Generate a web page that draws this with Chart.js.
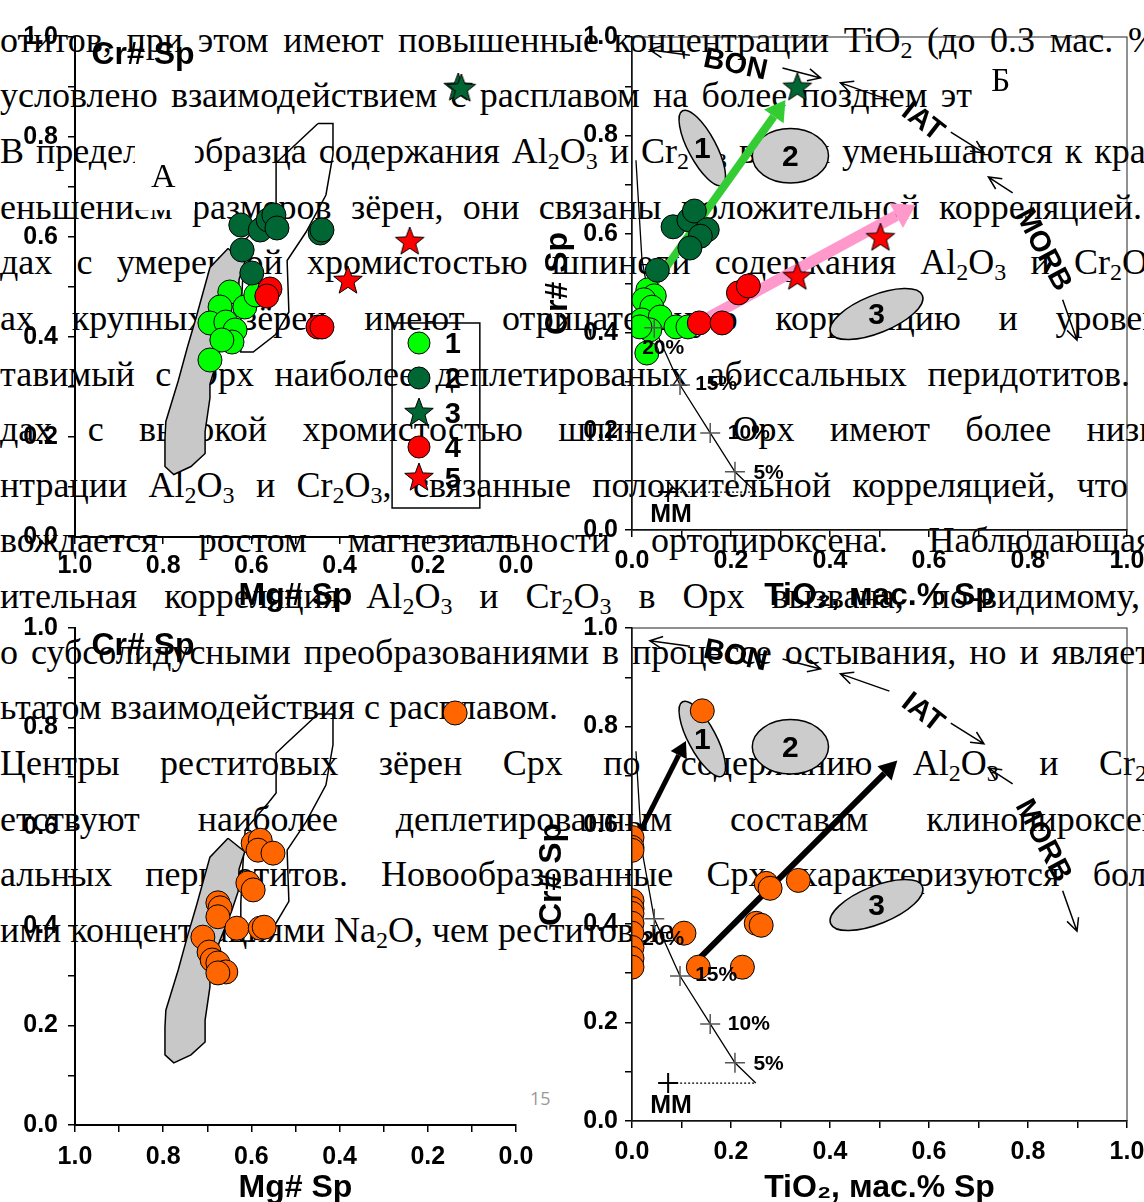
<!DOCTYPE html>
<html>
<head>
<meta charset="utf-8">
<script src="https://cdn.jsdelivr.net/npm/chart.js@4.4.1/dist/chart.umd.min.js"></script>
<style>
  body { margin: 0; width: 1144px; height: 1202px; overflow: hidden; background: #fff; position: relative; }
  .ln { position: absolute; left: 0; font: 36px/36px "Liberation Serif", serif; color: #000;
        text-align: justify; text-align-last: justify; }
  .ln.nat { text-align: left; text-align-last: left; white-space: nowrap; }
  .ln sub { font-size: 24px; line-height: 0; vertical-align: -6px; }
  canvas { position: absolute; }
  #pg { position: absolute; left: 530px; top: 1086px; font: 18px "Open Sans", sans-serif; color: #999; }
</style>
</head>
<body>
<div id="txt"></div>
<div id="pg">15</div>
<canvas id="cA" width="560" height="615" style="left:0;top:0"></canvas>
<canvas id="cB" width="614" height="615" style="left:530px;top:0"></canvas>
<canvas id="cC" width="560" height="587" style="left:0;top:615px"></canvas>
<canvas id="cD" width="614" height="587" style="left:530px;top:615px"></canvas>
<script>
// ---- page text behind the charts: [baseline, width (0 = natural), html]
var textLines = [
  [52, 1158, 'отитов, при этом имеют повышенные концентрации TiO<sub>2</sub> (до 0.3 мас. %'],
  [107, 972, 'условлено взаимодействием с расплавом на более позднем эт'],
  [163, 1185, 'В пределах образца содержания Al<sub>2</sub>O<sub>3</sub> и Cr<sub>2</sub>O<sub>3</sub> в Орх уменьшаются к краям'],
  [219, 1142, 'еньшением размеров зёрен, они связаны положительной корреляцией.'],
  [274, 1160, 'дах с умеренной хромистостью шпинели содержания Al<sub>2</sub>O<sub>3</sub> и Cr<sub>2</sub>O<sub>3</sub>'],
  [330, 1178, 'ах крупных зёрен имеют отрицательную корреляцию и уровень'],
  [386, 1130, 'тавимый с Орх наиболее деплетированых абиссальных перидотитов.'],
  [441, 1192, 'дах с высокой хромистостью шпинели Орх имеют более низкие'],
  [497, 1128, 'нтрации Al<sub>2</sub>O<sub>3</sub> и Cr<sub>2</sub>O<sub>3</sub>, связанные положительной корреляцией, что'],
  [552, 1185, 'вождается ростом магнезиальности ортопироксена. Наблюдающаяся'],
  [608, 1140, 'ительная корреляция Al<sub>2</sub>O<sub>3</sub> и Cr<sub>2</sub>O<sub>3</sub> в Орх вызвана, по-видимому,'],
  [664, 1184, 'о субсолидусными преобразованиями в процессе остывания, но и является'],
  [719, 0, 'ьтатом взаимодействия с расплавом.'],
  [775, 1185, 'Центры реститовых зёрен Срх по содержанию Al<sub>2</sub>O<sub>3</sub> и Cr<sub>2</sub>O<sub>3</sub>'],
  [831, 1196, 'етствуют наиболее деплетированным составам клинопироксенов'],
  [886, 1175, 'альных перидотитов. Новообразованные Срх характеризуются боль-'],
  [942, 0, 'ими концентрациями Na<sub>2</sub>O, чем реститовые.']
];
var txt = document.getElementById('txt');
textLines.forEach(function (l) {
  var d = document.createElement('div');
  d.className = l[1] ? 'ln' : 'ln nat';
  d.style.top = (l[0] - 30.2) + 'px';
  if (l[1]) d.style.width = l[1] + 'px';
  d.innerHTML = l[2];
  txt.appendChild(d);
});

// ---- data: Mg# Sp / Cr# Sp (panel A)
var a1 = [[0.649,0.49],[0.671,0.46],[0.615,0.46],[0.59,0.484],[0.694,0.428],[0.658,0.43],[0.637,0.414],[0.644,0.39],[0.667,0.394],[0.694,0.354]];
var a2 = [[0.624,0.624],[0.58,0.614],[0.562,0.634],[0.549,0.644],[0.542,0.618],[0.444,0.608],[0.44,0.614],[0.621,0.574],[0.599,0.528]];
var a3 = [[0.131,0.898],[0.124,0.896]];
var a4 = [[0.558,0.496],[0.565,0.482],[0.449,0.42],[0.44,0.42]];
var a5 = [[0.241,0.59],[0.381,0.512]];
// TiO2 / Cr# Sp (panel B)
var b1 = [[0.032,0.487],[0.045,0.475],[0.024,0.467],[0.04,0.452],[0.02,0.426],[0.057,0.432],[0.036,0.406],[0.016,0.412],[0.089,0.412],[0.113,0.412],[0.03,0.359]];
var b2 = [[0.051,0.527],[0.083,0.615],[0.115,0.629],[0.126,0.647],[0.152,0.609],[0.138,0.596],[0.117,0.572]];
var b3 = [[0.334,0.897]];
var b4 = [[0.215,0.481],[0.235,0.495],[0.136,0.42],[0.182,0.42]];
var b5 = [[0.502,0.592],[0.334,0.513]];
// clinopyroxene-hosted spinel (panels C, D)
var cOrange = [[0.138,0.829],[0.596,0.567],[0.58,0.573],[0.585,0.553],[0.551,0.547],[0.608,0.487],[0.596,0.473],
  [0.676,0.447],[0.671,0.437],[0.676,0.419],[0.633,0.396],[0.58,0.396],[0.571,0.398],[0.71,0.378],[0.696,0.348],
  [0.689,0.332],[0.676,0.326],[0.658,0.308],[0.676,0.306]];
var dOrange = [[0.142,0.832],[0.0,0.575],[0.0,0.555],[0.0,0.549],[0.0,0.447],[0.0,0.431],[0.0,0.421],[0.0,0.401],
  [0.0,0.381],[0.0,0.352],[0.0,0.33],[0.0,0.312],[0.271,0.482],[0.279,0.472],[0.336,0.488],[0.251,0.401],
  [0.261,0.397],[0.105,0.381],[0.134,0.312],[0.223,0.312]];
// fields
var abyssalField = [[0.653,0.577],[0.615,0.55],[0.628,0.515],[0.63,0.47],[0.645,0.43],[0.672,0.37],[0.694,0.306],
  [0.694,0.278],[0.705,0.211],[0.705,0.167],[0.737,0.141],[0.776,0.125],[0.796,0.141],[0.796,0.197],[0.794,0.231],
  [0.766,0.312],[0.745,0.38],[0.725,0.44],[0.694,0.539],[0.653,0.577]];
var outlineField = [[0.449,0.827],[0.415,0.827],[0.415,0.765],[0.431,0.684],[0.476,0.61],[0.519,0.553],[0.515,0.45],
  [0.545,0.405],[0.596,0.37],[0.624,0.37],[0.624,0.447],[0.619,0.527],[0.614,0.594],[0.562,0.648],[0.544,0.668],
  [0.544,0.748],[0.524,0.765],[0.449,0.827]];
// melting trend
var meltCurve = [[0.25,0.077],[0.208,0.118],[0.158,0.197],[0.097,0.294],[0.045,0.41],[0.02,0.55],[0.008,0.75]];
var meltMarks = [[0.208,0.118],[0.158,0.197],[0.097,0.294],[0.045,0.41]];
var meltLabels = ['5%', '10%', '15%', '20%'];
var meltLabelAt = [[0.276,0.116],[0.236,0.197],[0.17,0.296],[0.063,0.369]];
var mmPoint = [[0.073,0.077]];
var mmLine = [[0.073,0.077],[0.25,0.077]];
// tectonic fields: ellipses [cx, cy, a, b, rotation]
var ellipses = [[0.142,0.775,0.085,0.028,62],[0.32,0.759,0.077,0.055,0],[0.494,0.438,0.1,0.038,-22]];
var ellipseLabels = ['1', '2', '3'];
var trendLabels = ['BON', 'IAT', 'MORB'];
var trendLabelAt = [[0.209,0.943,12],[0.587,0.828,38],[0.83,0.568,62]];
var trendArrows = [[[0.117,0.963],[0.036,0.974]],[[0.304,0.937],[0.381,0.917]],[[0.52,0.872],[0.421,0.907]],
  [[0.644,0.807],[0.711,0.765]],[[0.769,0.684],[0.72,0.716]],[[0.87,0.467],[0.899,0.385]]];
var legendLabels = ['1', '2', '3', '4', '5'];

var SANS = '"Liberation Sans", Arial, sans-serif';
var SERIF = '"Liberation Serif", serif';
var C_LG = '#00ff00', C_DG = '#006633', C_RED = '#ff0000', C_OR = '#ff6600';

function xy(arr) { return arr.map(function (p) { return {x: p[0], y: p[1]}; }); }

function makeStar(fill, r) {
  var s = Math.ceil(r * 2 + 4);
  var c = document.createElement('canvas');
  c.width = s; c.height = s;
  var g = c.getContext('2d');
  g.beginPath();
  for (var i = 0; i < 10; i++) {
    var rad = i % 2 ? r * 0.42 : r;
    var ang = -Math.PI / 2 + i * Math.PI / 5;
    g.lineTo(s / 2 + rad * Math.cos(ang), s / 2 + rad * Math.sin(ang));
  }
  g.closePath();
  g.fillStyle = fill; g.fill();
  g.strokeStyle = '#000'; g.lineWidth = 1; g.stroke();
  return c;
}
var starDG = makeStar(C_DG, 15);
var starRed = makeStar(C_RED, 15);

function dots(data, color, order) {
  return {data: xy(data), backgroundColor: color, borderColor: '#000', borderWidth: 1, pointRadius: 12, order: order};
}
function stars(data, img, order) {
  return {data: xy(data), pointStyle: img, pointRadius: 15, order: order};
}
function field(data, filled) {
  return {data: xy(data), showLine: true, pointRadius: 0, borderColor: '#000', borderWidth: 1.5, tension: 0,
    fill: filled ? 'shape' : false, backgroundColor: filled ? '#c8c8c8' : 'transparent', order: 20};
}
function meltSets() {
  return [
    {data: xy(meltCurve), showLine: true, pointRadius: 0, borderColor: '#000', borderWidth: 1.3, order: 15},
    {data: xy(mmLine), showLine: true, pointRadius: 0, borderColor: '#000', borderWidth: 1.3, borderDash: [2, 2], order: 15},
    {data: xy(meltMarks), pointStyle: 'cross', pointRadius: 10, borderColor: '#555', borderWidth: 1.5, order: 0},
    {data: xy(mmPoint), pointStyle: 'cross', pointRadius: 10, borderColor: '#000', borderWidth: 2, order: 0}
  ];
}

// decorations per canvas
var decor = {
  cA: {boxA: true, legend: true, yTitle: true},
  cB: {tect: true, frame: true, letter: 'Б',
       fat: [[[0.022,0.467],[0.31,0.872],'#33cc33',8,20,12],[[0.138,0.422],[0.573,0.659],'#ff99cc',11,22,14]]},
  cC: {yTitle: true},
  cD: {tect: true, frame: true,
       fat: [[[0.018,0.59],[0.109,0.771],'#000',5,16,9],[[0.138,0.332],[0.536,0.731],'#000',6,18,10]]}
};

function P(ch, p) { return [ch.scales.x.getPixelForValue(p[0]), ch.scales.y.getPixelForValue(p[1])]; }

function fatArrow(c, a, b, col, w, hl, hw) {
  var dx = b[0] - a[0], dy = b[1] - a[1], L = Math.hypot(dx, dy), ux = dx / L, uy = dy / L;
  var bx = b[0] - ux * hl, by = b[1] - uy * hl;
  c.strokeStyle = col; c.fillStyle = col; c.lineWidth = w; c.lineCap = 'butt';
  c.beginPath(); c.moveTo(a[0], a[1]); c.lineTo(bx, by); c.stroke();
  c.beginPath(); c.moveTo(b[0], b[1]); c.lineTo(bx - uy * hw, by + ux * hw); c.lineTo(bx + uy * hw, by - ux * hw);
  c.closePath(); c.fill();
}
function thinArrow(c, a, b) {
  var ang = Math.atan2(b[1] - a[1], b[0] - a[0]);
  c.strokeStyle = '#000'; c.lineWidth = 1.5;
  c.beginPath(); c.moveTo(a[0], a[1]); c.lineTo(b[0], b[1]);
  c.moveTo(b[0] - 14 * Math.cos(ang - 0.45), b[1] - 14 * Math.sin(ang - 0.45)); c.lineTo(b[0], b[1]);
  c.lineTo(b[0] - 14 * Math.cos(ang + 0.45), b[1] - 14 * Math.sin(ang + 0.45));
  c.stroke();
}
function label(c, t, x, y, font, rot) {
  c.save(); c.translate(x, y); if (rot) c.rotate(rot * Math.PI / 180);
  c.font = font; c.fillStyle = '#000'; c.textAlign = 'center'; c.textBaseline = 'middle';
  c.fillText(t, 0, 0); c.restore();
}

var decorPlugin = {
  id: 'decor',
  beforeDatasetsDraw: function (ch) {
    var d = decor[ch.canvas.id], c = ch.ctx;
    c.save();
    if (d.boxA) {
      var p0 = P(ch, [0.864, 0.824]), p1 = P(ch, [0.728, 0.654]);
      c.fillStyle = '#fff'; c.fillRect(p0[0], p0[1], p1[0] - p0[0], p1[1] - p0[1]);
      var pa = P(ch, [0.8, 0.718]);
      label(c, 'А', pa[0], pa[1], '34px ' + SERIF);
    }
    if (d.tect) {
      var unit = ch.scales.x.getPixelForValue(1) - ch.scales.x.getPixelForValue(0);
      ellipses.forEach(function (e, i) {
        var p = P(ch, e);
        c.beginPath(); c.ellipse(p[0], p[1], e[2] * unit, e[3] * unit, e[4] * Math.PI / 180, 0, 2 * Math.PI);
        c.fillStyle = '#cccccc'; c.fill(); c.strokeStyle = '#000'; c.lineWidth = 1.5; c.stroke();
        label(c, ellipseLabels[i], p[0], p[1] + 2, 'bold 30px ' + SANS);
      });
    }
    (d.fat || []).forEach(function (f) { fatArrow(c, P(ch, f[0]), P(ch, f[1]), f[2], f[3], f[4], f[5]); });
    c.restore();
  },
  afterDatasetsDraw: function (ch) {
    var d = decor[ch.canvas.id], c = ch.ctx, ca = ch.chartArea;
    c.save();
    if (d.frame) { c.strokeStyle = '#222'; c.lineWidth = 1; c.strokeRect(ca.left, ca.top, ca.right - ca.left, ca.bottom - ca.top); }
    if (d.yTitle) label(c, 'Cr# Sp', ca.left + 68, ca.top + 18, 'bold 32px ' + SANS);
    if (d.letter) { var pb = P(ch, [0.745, 0.909]); label(c, d.letter, pb[0], pb[1], '33px ' + SERIF); }
    if (d.tect) {
      trendArrows.forEach(function (a) { thinArrow(c, P(ch, a[0]), P(ch, a[1])); });
      trendLabels.forEach(function (t, i) { var p = P(ch, trendLabelAt[i]); label(c, t, p[0], p[1], 'bold 29px ' + SANS, trendLabelAt[i][2]); });
      meltLabels.forEach(function (t, i) { var p = P(ch, meltLabelAt[i]); label(c, t, p[0], p[1], 'bold 21px ' + SANS); });
      var pm = P(ch, [0.079, 0.03]); label(c, 'MM', pm[0], pm[1], 'bold 25px ' + SANS);
    }
    if (d.legend) {
      var q0 = P(ch, [0.281, 0.428]), q1 = P(ch, [0.082, 0.058]);
      c.strokeStyle = '#000'; c.lineWidth = 1.5; c.strokeRect(q0[0], q0[1], q1[0] - q0[0], q1[1] - q0[1]);
      var ys = [0.388, 0.318, 0.248, 0.18, 0.118];
      var sym = [C_LG, C_DG, starDG, C_RED, starRed];
      legendLabels.forEach(function (t, i) {
        var s = P(ch, [0.22, ys[i]]);
        if (typeof sym[i] === 'string') {
          c.beginPath(); c.arc(s[0], s[1], 11, 0, 2 * Math.PI); c.fillStyle = sym[i]; c.fill();
          c.strokeStyle = '#000'; c.lineWidth = 1; c.stroke();
        } else {
          c.drawImage(sym[i], s[0] - sym[i].width / 2, s[1] - sym[i].height / 2);
        }
        var l = P(ch, [0.143, ys[i]]);
        label(c, t, l[0], l[1] + 2, 'bold 29px ' + SANS);
      });
    }
    c.restore();
  }
};

function lab(v) { var k = Math.round(v * 10); return k % 2 === 0 ? (k / 10).toFixed(1) : ''; }

function axis(opts) {
  return {
    type: 'linear', min: 0, max: 1, reverse: !!opts.reverse,
    border: {color: '#000', width: opts.bw},
    grid: {drawOnChartArea: false, color: '#000', lineWidth: 1.5, tickLength: 7},
    ticks: {stepSize: 0.1, autoSkip: false, maxRotation: 0, padding: opts.pad, color: '#000',
            font: {family: SANS, weight: 'bold', size: 25}, callback: lab},
    title: {display: !!opts.title, text: opts.title || '', color: '#000', padding: opts.tpad || 0,
            font: {family: SANS, weight: 'bold', size: 32}},
    afterFit: function (s) {
      if (opts.w) s.width = opts.w;
      if (opts.h) s.height = opts.h;
      s.paddingLeft = 0; s.paddingRight = 0; s.paddingTop = 0; s.paddingBottom = 0;
    }
  };
}

function build(id, datasets, xs, ys, pad) {
  new Chart(document.getElementById(id), {
    type: 'scatter',
    data: {datasets: datasets},
    options: {
      responsive: false, animation: false, events: [],
      layout: {padding: pad},
      plugins: {legend: {display: false}, tooltip: {enabled: false}},
      scales: {x: axis(xs), y: axis(ys)}
    },
    plugins: [decorPlugin]
  });
}

// A: spinel from orthopyroxene-bearing rocks
build('cA', [
  field(abyssalField, true), field(outlineField, false),
  dots(a1, C_LG, 5), dots(a2, C_DG, 4), stars(a3, starDG, 3), dots(a4, C_RED, 2), stars(a5, starRed, 1)
], {reverse: true, bw: 2, pad: 7, h: 78, title: 'Mg# Sp'}, {bw: 2, pad: 10, w: 75},
   {top: 37, right: 44, left: 0, bottom: 0});

// B: TiO2 vs Cr#
build('cB', meltSets().concat([
  dots(b1, C_LG, 5), dots(b2, C_DG, 4), stars(b3, starDG, 3), dots(b4, C_RED, 2), stars(b5, starRed, 1)
]), {bw: 1.5, pad: 9, h: 85, title: 'TiO₂, мас.% Sp'}, {bw: 1.5, pad: 7, w: 102, title: 'Cr# Sp', tpad: 9},
   {top: 37, right: 17, left: 0, bottom: 0});

// C: Cpx-associated spinel, Mg# vs Cr#
build('cC', [
  field(abyssalField, true), field(outlineField, false), dots(cOrange, C_OR, 1)
], {reverse: true, bw: 2, pad: 10, h: 77, title: 'Mg# Sp', tpad: {top: 0, bottom: -5}}, {bw: 2, pad: 10, w: 75},
   {top: 13, right: 44, left: 0, bottom: 0});

// D: Cpx-associated spinel, TiO2 vs Cr#
build('cD', meltSets().concat([dots(dOrange, C_OR, 1)]),
   {bw: 1.5, pad: 9, h: 81, title: 'TiO₂, мас.% Sp', tpad: {top: 0, bottom: -5}}, {bw: 1.5, pad: 7, w: 102, title: 'Cr# Sp', tpad: 3},
   {top: 12, right: 17, left: 0, bottom: 0});
</script>
</body>
</html>
